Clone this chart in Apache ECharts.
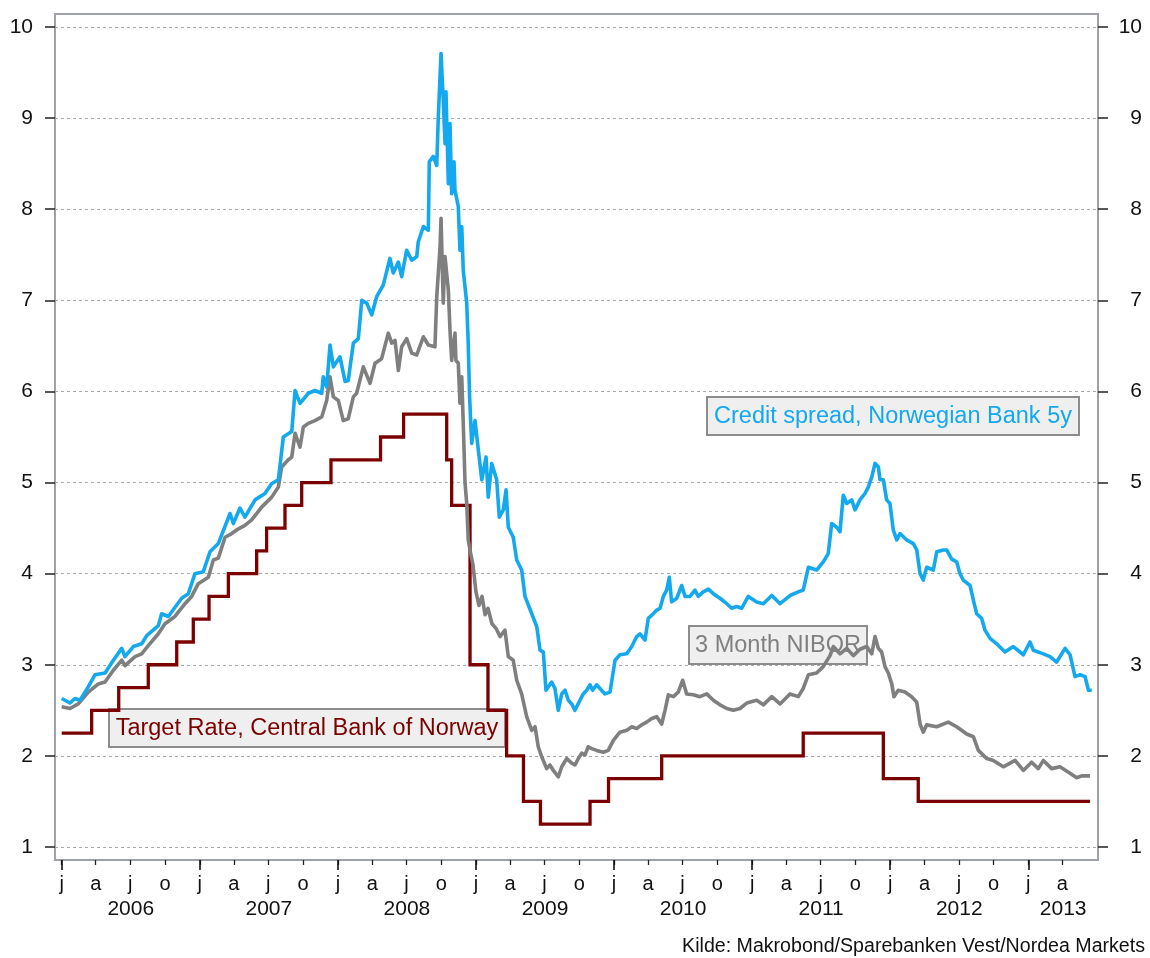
<!DOCTYPE html>
<html>
<head>
<meta charset="utf-8">
<script src="https://cdn.jsdelivr.net/npm/echarts@6/dist/echarts.min.js"></script>
<style>
html,body{margin:0;padding:0;background:#ffffff;}
#chart{width:1150px;height:958px;}
</style>
</head>
<body>
<div id="chart"></div>
<script>
// ---------------- DATA (x = decimal year, y = percent) ----------------
const creditSpread = [[2006.000,2.63],[2006.060,2.58],[2006.096,2.63],[2006.133,2.61],[2006.193,2.76],[2006.241,2.89],[2006.314,2.91],[2006.374,3.05],[2006.435,3.18],[2006.458,3.09],[2006.519,3.20],[2006.579,3.23],[2006.616,3.32],[2006.700,3.43],[2006.724,3.56],[2006.772,3.53],[2006.869,3.73],[2006.917,3.78],[2006.965,4.00],[2007.025,4.02],[2007.074,4.24],[2007.134,4.33],[2007.219,4.66],[2007.243,4.55],[2007.291,4.72],[2007.327,4.62],[2007.400,4.81],[2007.472,4.88],[2007.521,4.99],[2007.569,5.03],[2007.605,5.50],[2007.666,5.56],[2007.690,6.01],[2007.726,5.87],[2007.786,5.98],[2007.834,6.01],[2007.883,5.98],[2007.894,6.16],[2007.919,6.05],[2007.943,6.51],[2007.967,6.27],[2008.015,6.38],[2008.052,6.11],[2008.075,6.12],[2008.112,6.53],[2008.148,6.58],[2008.173,7.00],[2008.209,6.97],[2008.245,6.84],[2008.281,7.04],[2008.329,7.17],[2008.377,7.46],[2008.401,7.30],[2008.438,7.42],[2008.462,7.26],[2008.498,7.55],[2008.535,7.44],[2008.571,7.48],[2008.582,7.64],[2008.619,7.81],[2008.655,7.77],[2008.662,8.52],[2008.691,8.58],[2008.716,8.48],[2008.727,9.00],[2008.747,9.71],[2008.763,9.20],[2008.776,8.72],[2008.783,9.29],[2008.800,8.28],[2008.812,8.94],[2008.824,8.17],[2008.841,8.52],[2008.848,8.21],[2008.872,8.03],[2008.884,7.55],[2008.897,7.81],[2008.908,7.33],[2008.933,6.97],[2008.944,6.53],[2008.954,5.94],[2008.969,5.43],[2008.993,5.68],[2009.017,5.36],[2009.042,5.03],[2009.073,5.28],[2009.089,4.84],[2009.114,5.21],[2009.150,5.03],[2009.169,4.62],[2009.198,4.70],[2009.218,4.92],[2009.234,4.51],[2009.270,4.40],[2009.295,4.15],[2009.331,4.04],[2009.355,3.75],[2009.404,3.56],[2009.440,3.42],[2009.464,3.16],[2009.488,3.14],[2009.507,2.72],[2009.548,2.81],[2009.572,2.74],[2009.596,2.50],[2009.621,2.68],[2009.645,2.72],[2009.669,2.61],[2009.693,2.57],[2009.717,2.50],[2009.753,2.61],[2009.777,2.68],[2009.802,2.72],[2009.826,2.78],[2009.845,2.72],[2009.874,2.78],[2009.898,2.74],[2009.934,2.68],[2009.971,2.70],[2010.007,3.05],[2010.043,3.11],[2010.092,3.12],[2010.128,3.20],[2010.164,3.31],[2010.188,3.34],[2010.224,3.27],[2010.248,3.51],[2010.284,3.56],[2010.309,3.60],[2010.333,3.62],[2010.357,3.75],[2010.381,3.82],[2010.400,3.96],[2010.417,3.69],[2010.454,3.73],[2010.490,3.87],[2010.514,3.75],[2010.550,3.75],[2010.586,3.82],[2010.610,3.75],[2010.646,3.80],[2010.683,3.83],[2010.719,3.78],[2010.767,3.73],[2010.816,3.67],[2010.852,3.62],[2010.888,3.64],[2010.924,3.62],[2010.972,3.75],[2011.033,3.69],[2011.081,3.67],[2011.142,3.76],[2011.202,3.67],[2011.274,3.76],[2011.334,3.80],[2011.370,3.82],[2011.407,4.07],[2011.467,4.04],[2011.515,4.13],[2011.551,4.22],[2011.576,4.55],[2011.612,4.51],[2011.636,4.46],[2011.660,4.86],[2011.685,4.77],[2011.721,4.81],[2011.745,4.70],[2011.781,4.81],[2011.817,4.88],[2011.841,4.95],[2011.866,5.06],[2011.890,5.21],[2011.914,5.17],[2011.926,5.03],[2011.950,5.03],[2011.974,4.81],[2011.998,4.77],[2012.022,4.48],[2012.047,4.37],[2012.071,4.44],[2012.119,4.37],[2012.167,4.33],[2012.192,4.26],[2012.216,4.00],[2012.239,3.93],[2012.264,4.07],[2012.312,4.04],[2012.337,4.24],[2012.384,4.26],[2012.409,4.26],[2012.445,4.16],[2012.481,4.13],[2012.505,4.00],[2012.529,3.93],[2012.578,3.87],[2012.602,3.71],[2012.626,3.56],[2012.662,3.51],[2012.686,3.38],[2012.723,3.29],[2012.771,3.23],[2012.831,3.14],[2012.891,3.20],[2012.964,3.11],[2013.012,3.25],[2013.036,3.16],[2013.109,3.12],[2013.157,3.09],[2013.205,3.03],[2013.266,3.18],[2013.302,3.11],[2013.338,2.87],[2013.375,2.89],[2013.411,2.87],[2013.435,2.72],[2013.459,2.72]];

const nibor3m = [[2006.000,2.54],[2006.060,2.52],[2006.120,2.57],[2006.193,2.70],[2006.265,2.79],[2006.314,2.81],[2006.374,2.94],[2006.435,3.05],[2006.458,2.99],[2006.531,3.09],[2006.579,3.12],[2006.627,3.21],[2006.700,3.34],[2006.748,3.45],[2006.820,3.53],[2006.893,3.67],[2006.941,3.75],[2006.989,3.89],[2007.062,3.96],[2007.098,4.15],[2007.134,4.17],[2007.183,4.40],[2007.231,4.44],[2007.267,4.48],[2007.327,4.53],[2007.376,4.59],[2007.448,4.73],[2007.521,4.84],[2007.569,4.95],[2007.593,5.17],[2007.641,5.25],[2007.666,5.28],[2007.690,5.54],[2007.726,5.39],[2007.750,5.61],[2007.786,5.65],[2007.834,5.68],[2007.883,5.72],[2007.919,5.90],[2007.943,6.16],[2007.967,5.94],[2008.003,5.90],[2008.039,5.68],[2008.075,5.70],[2008.112,5.94],[2008.136,5.98],[2008.184,6.27],[2008.233,6.09],[2008.269,6.31],[2008.317,6.36],[2008.365,6.64],[2008.390,6.53],[2008.414,6.56],[2008.438,6.23],[2008.462,6.49],[2008.498,6.58],[2008.535,6.42],[2008.571,6.40],[2008.619,6.60],[2008.655,6.51],[2008.703,6.49],[2008.716,7.04],[2008.740,7.59],[2008.747,7.90],[2008.763,6.97],[2008.776,7.48],[2008.800,7.11],[2008.812,6.67],[2008.824,6.34],[2008.848,6.64],[2008.855,6.34],[2008.872,6.31],[2008.884,5.87],[2008.897,6.16],[2008.908,5.65],[2008.921,4.99],[2008.933,4.77],[2008.944,4.37],[2008.957,4.26],[2008.978,4.10],[2009.000,3.80],[2009.022,3.65],[2009.044,3.75],[2009.066,3.55],[2009.087,3.62],[2009.116,3.45],[2009.145,3.40],[2009.174,3.31],[2009.210,3.38],[2009.234,3.09],[2009.270,3.05],[2009.295,2.83],[2009.331,2.68],[2009.367,2.43],[2009.404,2.28],[2009.428,2.32],[2009.451,2.10],[2009.476,1.99],[2009.512,1.86],[2009.536,1.90],[2009.560,1.84],[2009.596,1.77],[2009.621,1.88],[2009.657,1.97],[2009.693,1.92],[2009.717,1.90],[2009.741,1.97],[2009.766,2.03],[2009.790,2.01],[2009.813,2.10],[2009.838,2.08],[2009.874,2.06],[2009.922,2.04],[2009.958,2.06],[2009.995,2.17],[2010.043,2.26],[2010.092,2.28],[2010.128,2.32],[2010.164,2.30],[2010.200,2.34],[2010.236,2.37],[2010.273,2.41],[2010.309,2.43],[2010.345,2.35],[2010.369,2.50],[2010.393,2.67],[2010.429,2.65],[2010.465,2.70],[2010.497,2.83],[2010.526,2.68],[2010.574,2.67],[2010.622,2.65],[2010.671,2.68],[2010.719,2.61],[2010.767,2.56],[2010.816,2.52],[2010.864,2.50],[2010.912,2.52],[2010.961,2.58],[2011.033,2.61],[2011.081,2.56],[2011.142,2.65],[2011.202,2.57],[2011.274,2.68],[2011.334,2.65],[2011.370,2.74],[2011.407,2.89],[2011.467,2.91],[2011.515,2.98],[2011.564,3.10],[2011.588,3.20],[2011.636,3.12],[2011.685,3.18],[2011.733,3.10],[2011.781,3.17],[2011.830,3.20],[2011.866,3.12],[2011.890,3.31],[2011.914,3.18],[2011.938,3.14],[2011.962,2.98],[2011.986,2.91],[2012.011,2.79],[2012.027,2.65],[2012.058,2.72],[2012.107,2.70],[2012.155,2.65],[2012.192,2.59],[2012.216,2.35],[2012.239,2.26],[2012.264,2.34],[2012.337,2.32],[2012.420,2.37],[2012.481,2.32],[2012.554,2.24],[2012.602,2.21],[2012.638,2.06],[2012.699,1.97],[2012.746,1.95],[2012.819,1.88],[2012.904,1.95],[2012.964,1.84],[2013.024,1.93],[2013.072,1.86],[2013.109,1.95],[2013.169,1.86],[2013.229,1.88],[2013.302,1.81],[2013.350,1.76],[2013.386,1.78],[2013.447,1.78]];

// each value holds from its date until the next date
const targetRate = [[2006.000,2.25],[2006.217,2.50],[2006.413,2.75],[2006.627,3.00],[2006.833,3.25],[2006.953,3.50],[2007.067,3.75],[2007.207,4.00],[2007.412,4.25],[2007.484,4.50],[2007.617,4.75],[2007.738,5.00],[2007.950,5.25],[2008.309,5.50],[2008.476,5.75],[2008.788,5.25],[2008.824,4.75],[2008.957,3.00],[2009.087,2.50],[2009.222,2.00],[2009.344,1.50],[2009.467,1.25],[2009.826,1.50],[2009.960,1.75],[2010.345,2.00],[2011.370,2.25],[2011.950,1.75],[2012.203,1.50],[2013.447,1.50]];

const seriesNames = ['Target Rate, Central Bank of Norway', '3 Month NIBOR', 'Credit spread, Norwegian Bank 5y'];
const years = [2006, 2007, 2008, 2009, 2010, 2011, 2012, 2013];
const quarterMonths = [0, 3, 6, 9];
const quarterLetters = ['j', 'a', 'j', 'o'];
const yTicks = [1, 2, 3, 4, 5, 6, 7, 8, 9, 10];
const sourceText = 'Kilde: Makrobond/Sparebanken Vest/Nordea Markets';

// ---------------- AXIS SETUP ----------------
const xMin = 2005.9515, xMax = 2013.5046;
const yMin = 0.857, yMax = 10.143;

function decYear(y, m) {
  const a = Date.UTC(y, 0, 1), b = Date.UTC(y + 1, 0, 1);
  return y + (Date.UTC(y, m, 1) - a) / (b - a);
}
const quarterTicks = [], quarterLabels = [];
years.forEach(function (y) {
  quarterMonths.forEach(function (m, i) {
    const v = decYear(y, m);
    if (v < xMax - 0.03) { quarterTicks.push(v); quarterLabels.push(quarterLetters[i]); }
  });
});
const yearLabelPos = years.map(function (y) { return (y + Math.min(y + 1, xMax)) / 2; });

function monthLabel(v) {
  let best = 0, bd = Infinity;
  quarterTicks.forEach(function (t, i) { const d = Math.abs(t - v); if (d < bd) { bd = d; best = i; } });
  return quarterLabels[best];
}

const FONT = '"Liberation Sans", Arial, Helvetica, sans-serif';
const C_BLUE = '#14A8EE', C_GRAY = '#7F7F7F', C_RED = '#7B0000';

const chart = echarts.init(document.getElementById('chart'), null, { renderer: 'canvas' });

const option = {
  animation: false,
  backgroundColor: '#ffffff',
  grid: { left: 55, right: 52, top: 14, bottom: 98, show: true, borderColor: '#9EA2A6', borderWidth: 2, backgroundColor: 'transparent' },
  xAxis: [
    {
      type: 'value', min: xMin, max: xMax, position: 'bottom', offset: 0,
      axisLine: { show: false }, splitLine: { show: false },
      axisTick: { show: true, customValues: quarterTicks, length: 5, lineStyle: { color: '#222', width: 1.3 } },
      axisLabel: { show: true, customValues: quarterTicks, formatter: monthLabel, fontFamily: FONT, fontSize: 20, color: '#111', margin: 14 }
    },
    {
      type: 'value', min: xMin, max: xMax, position: 'bottom', offset: 0,
      axisLine: { show: false }, splitLine: { show: false },
      axisTick: { show: true, customValues: years, length: 10, lineStyle: { color: '#111', width: 1.6 } },
      axisLabel: { show: true, customValues: yearLabelPos, formatter: function (v) { return String(Math.floor(v)); }, fontFamily: FONT, fontSize: 21, color: '#111', margin: 39 }
    }
  ],
  yAxis: [
    {
      type: 'value', min: yMin, max: yMax, position: 'left',
      axisLine: { show: false },
      axisTick: { show: true, customValues: yTicks, length: 10, lineStyle: { color: '#222', width: 1.5 } },
      axisLabel: { show: true, customValues: yTicks, fontFamily: FONT, fontSize: 21, color: '#111', margin: 22 },
      splitLine: { show: true, lineStyle: { type: [3, 3], color: '#A9A9A9', width: 1 } }
    },
    {
      type: 'value', min: yMin, max: yMax, position: 'right',
      axisLine: { show: false },
      axisTick: { show: true, customValues: yTicks, length: 10, lineStyle: { color: '#222', width: 1.5 } },
      axisLabel: { show: true, customValues: yTicks, fontFamily: FONT, fontSize: 21, color: '#111', margin: 44, align: 'right' },
      splitLine: { show: false }
    }
  ],
  series: [
    { name: seriesNames[0], type: 'line', step: 'end', data: targetRate, xAxisIndex: 0, yAxisIndex: 0, symbol: 'none', silent: true, z: 3,
      lineStyle: { color: C_RED, width: 3.3, join: 'miter' } },
    { name: seriesNames[1], type: 'line', data: nibor3m, xAxisIndex: 0, yAxisIndex: 0, symbol: 'none', silent: true, z: 4,
      lineStyle: { color: C_GRAY, width: 3.6, join: 'round' } },
    { name: seriesNames[2], type: 'line', data: creditSpread, xAxisIndex: 0, yAxisIndex: 0, symbol: 'none', silent: true, z: 5,
      lineStyle: { color: C_BLUE, width: 3.6, join: 'round' } }
  ],
  graphic: [
    { type: 'rect', z: 1, shape: { x: 707, y: 397, width: 372, height: 38 }, style: { fill: '#EFEFEF', stroke: '#8C8C8C', lineWidth: 2 } },
    { type: 'text', z: 1, style: { x: 893, y: 417, text: seriesNames[2], fill: C_BLUE, font: '23.5px ' + FONT, align: 'center', verticalAlign: 'middle' } },
    { type: 'rect', z: 1, shape: { x: 689, y: 626, width: 178, height: 38 }, style: { fill: '#EFEFEF', stroke: '#8C8C8C', lineWidth: 2 } },
    { type: 'text', z: 1, style: { x: 778, y: 646, text: seriesNames[1], fill: C_GRAY, font: '23.5px ' + FONT, align: 'center', verticalAlign: 'middle' } },
    { type: 'rect', z: 1, shape: { x: 109, y: 709, width: 396, height: 38 }, style: { fill: '#EFEFEF', stroke: '#8C8C8C', lineWidth: 2 } },
    { type: 'text', z: 1, style: { x: 307, y: 729, text: seriesNames[0], fill: C_RED, font: '23.5px ' + FONT, align: 'center', verticalAlign: 'middle' } },
    { type: 'text', z: 1, style: { x: 1145, y: 947, text: sourceText, fill: '#111', font: '19.6px ' + FONT, align: 'right', verticalAlign: 'middle' } }
  ]
};
chart.setOption(option);
</script>
</body>
</html>
